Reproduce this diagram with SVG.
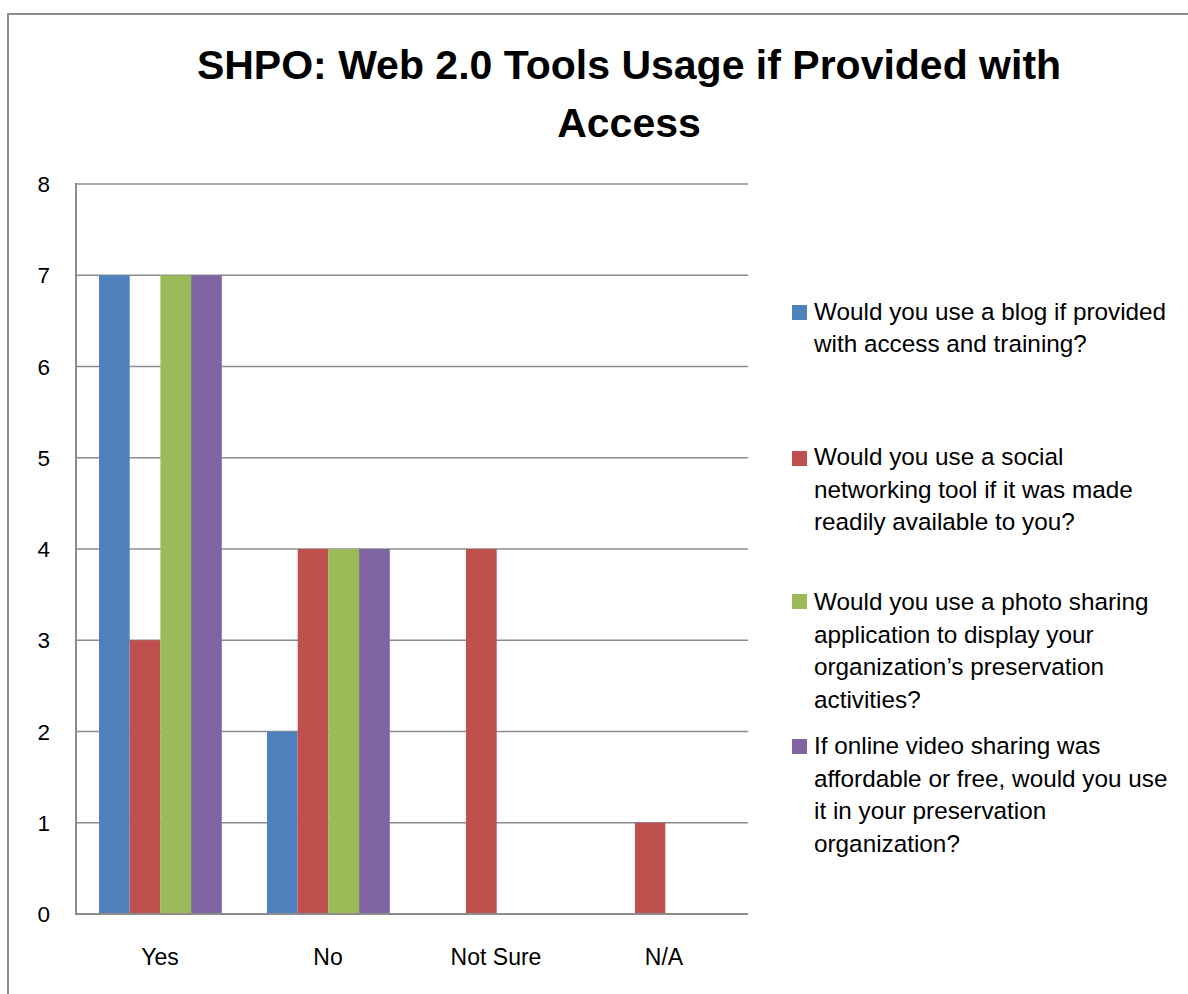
<svg xmlns="http://www.w3.org/2000/svg" width="1188" height="994" viewBox="0 0 1188 994">
  <style>
    .frame { fill: none; stroke: #8c8c8c; stroke-width: 2; }
    .grid { stroke: #8c8c8c; stroke-width: 1.5; fill: none; }
    .axis { stroke: #8c8c8c; stroke-width: 2; fill: none; }
    .title { font-family: "Liberation Sans", Arial, sans-serif; font-weight: bold; font-size: 41px; fill: #000; text-anchor: middle; }
    .ylab { font-family: "Liberation Sans", Arial, sans-serif; font-size: 22.5px; fill: #000; text-anchor: end; }
    .xlab { font-family: "Liberation Sans", Arial, sans-serif; font-size: 23px; fill: #000; text-anchor: middle; }
    .leg { font-family: "Liberation Sans", Arial, sans-serif; font-size: 24.3px; fill: #000; }
    .s1 { fill: #4F81BD; }
    .s2 { fill: #C0504D; }
    .s3 { fill: #9BBB59; }
    .s4 { fill: #8064A2; }
  </style>
  <rect x="0" y="0" width="1188" height="994" fill="#ffffff"/>
  <path class="frame" d="M8,994 V14 H1188"/>

  <g id="title">
    <text class="title" x="629" y="79">SHPO: Web 2.0 Tools Usage if Provided with</text>
    <text class="title" x="629" y="137">Access</text>
  </g>

  <g id="gridlines">
    <line class="grid" x1="76" y1="184" x2="748" y2="184"/>
    <line class="grid" x1="76" y1="275.25" x2="748" y2="275.25"/>
    <line class="grid" x1="76" y1="366.5" x2="748" y2="366.5"/>
    <line class="grid" x1="76" y1="457.75" x2="748" y2="457.75"/>
    <line class="grid" x1="76" y1="549" x2="748" y2="549"/>
    <line class="grid" x1="76" y1="640.25" x2="748" y2="640.25"/>
    <line class="grid" x1="76" y1="731.5" x2="748" y2="731.5"/>
    <line class="grid" x1="76" y1="822.75" x2="748" y2="822.75"/>
  </g>

  <g id="y-labels">
    <text class="ylab" x="50" y="192">8</text>
    <text class="ylab" x="50" y="283">7</text>
    <text class="ylab" x="50" y="374.5">6</text>
    <text class="ylab" x="50" y="466">5</text>
    <text class="ylab" x="50" y="557">4</text>
    <text class="ylab" x="50" y="648">3</text>
    <text class="ylab" x="50" y="739.5">2</text>
    <text class="ylab" x="50" y="831">1</text>
    <text class="ylab" x="50" y="922">0</text>
  </g>

  <g id="series-blog">
    <rect class="s1" x="99" y="275.25" width="30.7" height="638.75"/>
    <rect class="s1" x="267" y="731.5" width="30.7" height="182.5"/>
  </g>
  <g id="series-social">
    <rect class="s2" x="129.7" y="640.25" width="30.7" height="273.75"/>
    <rect class="s2" x="297.7" y="549" width="30.7" height="365"/>
    <rect class="s2" x="466" y="549" width="30.7" height="365"/>
    <rect class="s2" x="635" y="822.75" width="30.3" height="91.25"/>
  </g>
  <g id="series-photo">
    <rect class="s3" x="160.4" y="275.25" width="30.7" height="638.75"/>
    <rect class="s3" x="328.4" y="549" width="30.7" height="365"/>
  </g>
  <g id="series-video">
    <rect class="s4" x="191.1" y="275.25" width="30.7" height="638.75"/>
    <rect class="s4" x="359.1" y="549" width="30.7" height="365"/>
  </g>

  <g id="axes">
    <line class="axis" x1="76" y1="183" x2="76" y2="915"/>
    <line class="axis" x1="75" y1="914" x2="748" y2="914"/>
  </g>

  <g id="x-labels">
    <text class="xlab" x="160" y="965">Yes</text>
    <text class="xlab" x="328" y="965">No</text>
    <text class="xlab" x="496" y="965">Not Sure</text>
    <text class="xlab" x="664" y="965">N/A</text>
  </g>

  <g id="legend-blog">
    <rect class="s1" x="792" y="305" width="15" height="15"/>
    <text class="leg" x="814" y="320">Would you use a blog if provided</text>
    <text class="leg" x="814" y="352">with access and training?</text>
  </g>
  <g id="legend-social">
    <rect class="s2" x="792" y="451" width="15" height="15"/>
    <text class="leg" x="814" y="465">Would you use a social</text>
    <text class="leg" x="814" y="497.5">networking tool if it was made</text>
    <text class="leg" x="814" y="530">readily available to you?</text>
  </g>
  <g id="legend-photo">
    <rect class="s3" x="792" y="594" width="15" height="15"/>
    <text class="leg" x="814" y="610">Would you use a photo sharing</text>
    <text class="leg" x="814" y="642.5">application to display your</text>
    <text class="leg" x="814" y="675">organization’s preservation</text>
    <text class="leg" x="814" y="707.5">activities?</text>
  </g>
  <g id="legend-video">
    <rect class="s4" x="792" y="739" width="15" height="15"/>
    <text class="leg" x="814" y="754">If online video sharing was</text>
    <text class="leg" x="814" y="786.5">affordable or free, would you use</text>
    <text class="leg" x="814" y="819">it in your preservation</text>
    <text class="leg" x="814" y="851.5">organization?</text>
  </g>
</svg>
